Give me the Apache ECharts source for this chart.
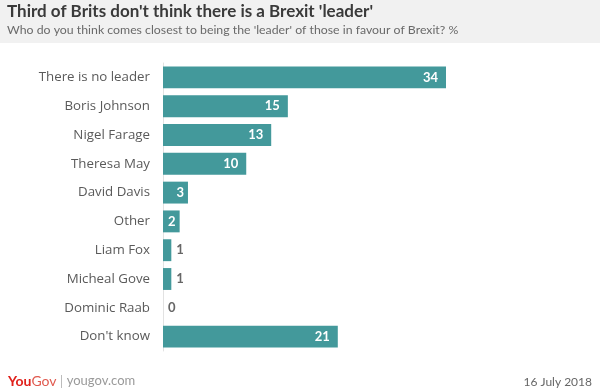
<!DOCTYPE html>
<html><head><meta charset="utf-8">
<script src="https://cdn.jsdelivr.net/npm/echarts@6/dist/echarts.min.js"></script>
<style>html,body{margin:0;padding:0;background:#fff}#c{width:600px;height:392px}</style>
</head><body><div id="c"></div>
<script>
const categories = ["There is no leader","Boris Johnson","Nigel Farage","Theresa May","David Davis","Other","Liam Fox","Micheal Gove","Dominic Raab","Don't know"];
const values = [34,15,13,10,3,2,1,1,0,21];
const titleText = "Third of Brits don't think there is a Brexit 'leader'";
const subtitleText = "Who do you think comes closest to being the 'leader' of those in favour of Brexit? %";
const dateText = "16 July 2018";

const chart = echarts.init(document.getElementById('c'));
const font = "Lato, 'Open Sans', sans-serif";
const font2 = "'Open Sans', Lato, sans-serif";
chart.setOption({
  animation:false,
  backgroundColor:'#fff',
  graphic:[
    {type:'rect',shape:{x:0,y:0,width:600,height:43},style:{fill:'#f1f1f1'},z:-1},
    {type:'text',left:7,top:3,style:{text:titleText,font:"bold 17px "+font,fill:'#3a3a3a'}},
    {type:'text',left:7,top:24,style:{text:subtitleText,font:"12.3px "+font,fill:'#6a6a6a'}},
    {type:'text',left:8,top:374,style:{rich:{r:{fill:'#e0201b',font:"bold 14px "+font},g:{fill:'#e05a4f',font:"14px "+font},s:{fill:'#bbb',font:"14px "+font},u:{fill:'#9a9a9a',font:"13px "+font}},text:"{r|You}{g|Gov} {s||} {u|yougov.com}"}},
    {type:'text',right:8,top:376,style:{text:dateText,font:"12px "+font,fill:'#666',align:'right'}}
  ],
  grid:{left:163,right:154,top:63,bottom:41,containLabel:false},
  xAxis:{type:'value',min:0,max:34,show:false},
  yAxis:{type:'category',data:categories,inverse:true,
    axisLine:{show:true,lineStyle:{color:'#e2e2e2',width:1}},
    axisTick:{show:false},
    axisLabel:{color:'#5a5a5a',fontSize:13.3,fontFamily:font2,margin:13}},
  series:[{type:'bar',data:values.map(v=>({value:v,label:{position:v>=2?'insideRight':'right',color:v>=2?'#fff':'#666',distance:v>=10?8:(v>=2?4:5)}})),
    barCategoryGap:'24%',itemStyle:{color:'#43999b'},
    label:{show:true,fontWeight:'bold',fontSize:13,fontFamily:font}}]
});
</script></body></html>
